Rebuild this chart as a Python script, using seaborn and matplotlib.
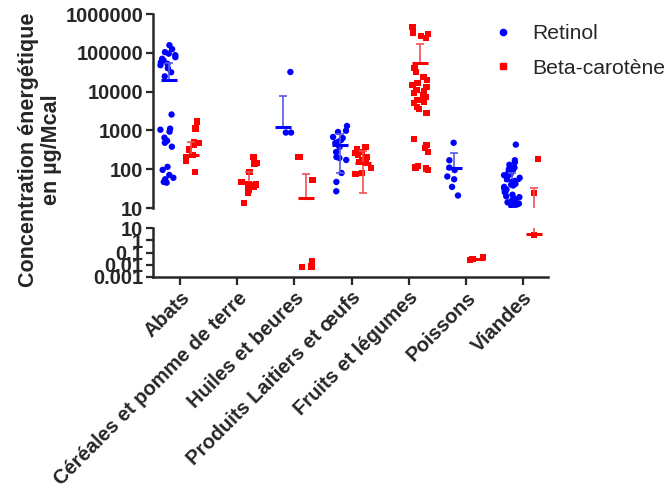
import warnings
warnings.filterwarnings("ignore")
import numpy as np
import pandas as pd
import matplotlib
matplotlib.use("Agg")
import matplotlib.pyplot as plt
from matplotlib.lines import Line2D
from matplotlib.ticker import LogLocator, FuncFormatter, NullFormatter, FixedLocator
import seaborn as sns

# ---------------- data ----------------
categories = ["Abats", "Céréales et pomme de terre", "Huiles et beures",
              "Produits Laitiers et œufs", "Fruits et légumes", "Poissons", "Viandes"]
series = ["Retinol", "Beta-carotène"]

abats_retinol = [157000, 124000, 104000, 95000, 87000, 77000, 70000, 64000, 57000,
                 52000, 48000, 40000, 31500, 24700, 2570, 1110, 1040, 930, 650, 540,
                 480, 380, 115, 96, 71, 60, 55, 47, 45]
abats_beta = [1690, 1110, 510, 480, 430, 320, 235, 200, 165, 86]
cereales_beta = [210, 147, 140, 86, 47, 42, 40, 35, 30, 25, 13.5]
huiles_retinol = [32000, 880, 880]
huiles_beta = [210, 210, 53, 0.0065, 0.007, 0.018]
produits_retinol = [1300, 980, 910, 676, 637, 566, 502, 473, 421, 373, 277, 206,
                    194, 173, 80, 47, 27]
produits_beta = [373, 332, 277, 262, 232, 206, 194, 173, 153, 145, 107, 80, 75]
fruits_beta = [470000, 330000, 300000, 270000, 240000, 40000, 32000, 23800, 19900,
               16700, 15000, 13100, 11000, 10000, 9200, 8200, 7300, 7000, 6100, 5500,
               5100, 4000, 3560, 2800, 600, 420, 350, 277, 120, 114, 108, 105, 95]
poissons_retinol = [480, 170, 110, 95, 65, 55, 35, 21]
poissons_beta = [0.025, 0.028, 0.045]
viandes_retinol = [430, 170, 150, 130, 110, 100, 95, 85, 75, 70, 62, 60, 55, 50, 45,
                   42, 40, 38, 35, 32, 30, 28, 26, 25, 22, 20, 19, 17, 16, 15, 14, 13,
                   12.5, 12, 11.5]
viandes_beta = [186, 24.5, 2.6]

# centre line and whiskers as drawn in the picture (nan = not drawn)
nan = np.nan
retinol_center = [20000, nan, 1200, 420, nan, 110, 52]
retinol_upper = [55000, nan, 7500, 800, nan, 265, 80]
retinol_lower = [nan, nan, nan, 80, nan, nan, nan]
beta_center = [230, 45, 18, 147, 54000, 0.03, 3.5]
beta_upper = [500, 85, 76, 300, 168000, nan, 33]
beta_lower = [nan, nan, nan, 25, nan, nan, nan]

y_ticks_top = [10, 100, 1000, 10000, 100000, 1000000]
y_ticks_bottom = [0.001, 0.01, 0.1, 1, 10]

# ---------------- table ----------------
rows = []
def add(cat, ser, vals):
    for v in vals:
        rows.append({"cat": cat, "series": ser, "val": v})
add(categories[0], series[0], abats_retinol)
add(categories[0], series[1], abats_beta)
add(categories[1], series[1], cereales_beta)
add(categories[2], series[0], huiles_retinol)
add(categories[2], series[1], huiles_beta)
add(categories[3], series[0], produits_retinol)
add(categories[3], series[1], produits_beta)
add(categories[4], series[1], fruits_beta)
add(categories[5], series[0], poissons_retinol)
add(categories[5], series[1], poissons_beta)
add(categories[6], series[0], viandes_retinol)
add(categories[6], series[1], viandes_beta)
df = pd.DataFrame(rows)

# ---------------- style ----------------
sns.set_style("ticks")
plt.rcParams["font.family"] = ["Liberation Sans", "DejaVu Sans"]
plt.rcParams["font.weight"] = "bold"
np.random.seed(3)

colors = {"Retinol": "#0000ff", "Beta-carotène": "#ff0000"}
light = {"Retinol": "#5a5ae6", "Beta-carotène": "#f05050"}
markers = {"Retinol": "o", "Beta-carotène": "s"}
offsets = {"Retinol": -0.2, "Beta-carotène": 0.2}

W, H = 669, 492
fig = plt.figure(figsize=(W / 100, H / 100), dpi=100)
left, right = 153 / W, 548 / W
ax_top = fig.add_axes([left, 1 - 208 / H, right - left, (208 - 14) / H])
ax_bot = fig.add_axes([left, 1 - 277 / H, right - left, (277 - 228) / H])

xlim = (-0.472, 6.437)
TICK_FS = 14.5

for ax, sub in ((ax_top, df[df.val >= 10]), (ax_bot, df[df.val < 10])):
    ax.set_yscale("log")
    for s in series:
        d = sub[sub.series == s]
        sns.stripplot(data=d, x="cat", y="val", hue="series", order=categories,
                      hue_order=series, dodge=True, palette=colors, marker=markers[s],
                      size=4.6, linewidth=0, ax=ax, legend=False, jitter=0.3,
                      zorder=2)
    # centre lines and whiskers
    for s, cen, up, lo in ((series[0], retinol_center, retinol_upper, retinol_lower),
                           (series[1], beta_center, beta_upper, beta_lower)):
        for i in range(len(categories)):
            x = i + offsets[s]
            if not np.isnan(cen[i]):
                ax.hlines(cen[i], x - 0.14, x + 0.14, color=colors[s], lw=2.2, zorder=4)
            for w in (up[i], lo[i]):
                if not np.isnan(w):
                    ax.vlines(x, cen[i], w, color=light[s], lw=1.2, zorder=3)
                    ax.hlines(w, x - 0.07, x + 0.07, color=light[s], lw=1.2, zorder=3)
    ax.set_xlim(*xlim)
    ax.set_xlabel("")
    ax.set_ylabel("")
    for sp in ("top", "right"):
        ax.spines[sp].set_visible(False)
    ax.spines["left"].set_linewidth(1.8)
    ax.spines["bottom"].set_linewidth(1.8)
    ax.tick_params(axis="y", which="major", length=5, width=1.6, labelsize=TICK_FS, pad=2)

fmt = FuncFormatter(lambda v, p: ("%g" % v) if v < 1 else "%d" % round(v))

ax_top.set_ylim(10, 1000000)
ax_top.yaxis.set_major_locator(FixedLocator(y_ticks_top))
ax_top.yaxis.set_major_formatter(fmt)
ax_top.yaxis.set_minor_locator(LogLocator(base=10, subs=np.arange(2, 10)))
ax_top.yaxis.set_minor_formatter(NullFormatter())
ax_top.tick_params(axis="y", which="minor", length=3, width=1.0)
ax_top.spines["bottom"].set_visible(False)
ax_top.tick_params(axis="x", bottom=False, labelbottom=False)

ax_bot.set_ylim(0.001, 10)
ax_bot.yaxis.set_major_locator(FixedLocator(y_ticks_bottom))
ax_bot.yaxis.set_major_formatter(fmt)
ax_bot.yaxis.set_minor_locator(FixedLocator([]))
ax_bot.tick_params(axis="x", length=6, width=1.6, labelsize=TICK_FS, pad=2)
ax_bot.set_xticks(range(len(categories)))
ax_bot.set_xticklabels(categories, rotation=45, ha="right", rotation_mode="anchor",
                       fontweight="bold")
for t in ax_bot.get_yticklabels() + ax_top.get_yticklabels():
    t.set_fontweight("bold")

fig.text(40 / W, 1 - 150 / H, "Concentration énergétique\nen µg/Mcal", rotation=90,
         ha="center", va="center", fontsize=15.5, fontweight="bold",
         multialignment="center", linespacing=1.1)

handles = [Line2D([], [], linestyle="none", marker=markers[s], color=colors[s],
                  markersize=4.5) for s in series]
fig.legend(handles, series, loc="upper left", bbox_to_anchor=(490 / W, 1 - 24 / H),
           frameon=False, prop={"size": 15.2, "weight": "normal"},
           handletextpad=0.78, labelspacing=0.74, handlelength=1.2, borderpad=0,
           borderaxespad=0)

fig.savefig("out.png", dpi=100)
